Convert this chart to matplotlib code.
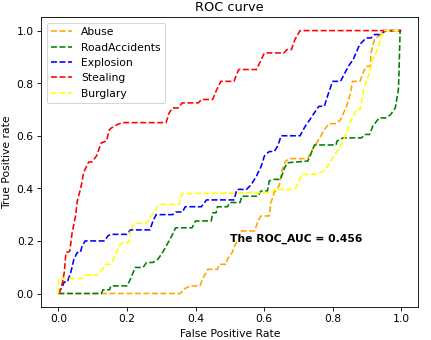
import matplotlib
matplotlib.use('Agg')
import matplotlib.pyplot as plt

# (fpr, tpr) points
abuse = [(0, 0), (0.356, 0), (0.365, 0.016), (0.385, 0.029), (0.413, 0.029), (0.42, 0.054),
         (0.436, 0.092), (0.464, 0.092), (0.47, 0.111), (0.49, 0.111), (0.493, 0.13), (0.507, 0.156),
         (0.516, 0.187), (0.526, 0.206), (0.534, 0.238), (0.573, 0.238), (0.582, 0.276), (0.591, 0.295),
         (0.615, 0.295), (0.62, 0.346), (0.63, 0.384), (0.644, 0.409), (0.653, 0.472), (0.663, 0.504),
         (0.676, 0.513), (0.728, 0.513), (0.738, 0.54), (0.747, 0.56), (0.766, 0.6), (0.776, 0.624),
         (0.79, 0.646), (0.81, 0.646), (0.823, 0.66), (0.84, 0.71), (0.852, 0.76), (0.858, 0.807),
         (0.88, 0.807), (0.889, 0.84), (0.898, 0.864), (0.91, 0.864), (0.912, 0.915), (0.922, 0.966),
         (0.93, 0.975), (0.94, 0.985), (0.945, 1.0), (1.0, 1.0)]

road_accidents = [(0, 0), (0.125, 0), (0.13, 0.014), (0.149, 0.014), (0.153, 0.029), (0.2, 0.029),
                  (0.21, 0.054), (0.224, 0.099), (0.247, 0.099), (0.257, 0.118), (0.276, 0.118),
                  (0.29, 0.13), (0.304, 0.156), (0.314, 0.18), (0.323, 0.2), (0.333, 0.225),
                  (0.342, 0.25), (0.39, 0.25), (0.4, 0.276), (0.446, 0.276), (0.45, 0.307),
                  (0.46, 0.307), (0.464, 0.33), (0.493, 0.33), (0.5, 0.346), (0.53, 0.346),
                  (0.535, 0.37), (0.582, 0.37), (0.591, 0.39), (0.61, 0.39), (0.615, 0.428),
                  (0.625, 0.434), (0.648, 0.434), (0.658, 0.472), (0.667, 0.497), (0.728, 0.504),
                  (0.738, 0.535), (0.747, 0.565), (0.81, 0.565), (0.813, 0.58), (0.83, 0.592),
                  (0.885, 0.592), (0.893, 0.605), (0.908, 0.605), (0.917, 0.636), (0.936, 0.668),
                  (0.955, 0.668), (0.969, 0.68), (0.983, 0.706), (0.992, 0.776), (0.994, 0.85),
                  (0.997, 1.0), (1.0, 1.0)]

explosion = [(0, 0), (0.012, 0.029), (0.017, 0.044), (0.026, 0.044), (0.036, 0.08), (0.045, 0.13),
             (0.055, 0.156), (0.064, 0.156), (0.069, 0.18), (0.078, 0.2), (0.135, 0.2), (0.144, 0.219),
             (0.153, 0.225), (0.2, 0.225), (0.21, 0.242), (0.267, 0.242), (0.276, 0.276), (0.285, 0.3),
             (0.333, 0.3), (0.342, 0.31), (0.362, 0.31), (0.37, 0.33), (0.417, 0.33), (0.432, 0.356),
             (0.512, 0.356), (0.521, 0.396), (0.549, 0.396), (0.563, 0.415), (0.578, 0.447),
             (0.592, 0.485), (0.601, 0.523), (0.615, 0.54), (0.63, 0.54), (0.64, 0.562), (0.65, 0.6),
             (0.705, 0.6), (0.72, 0.636), (0.733, 0.66), (0.743, 0.68), (0.76, 0.712), (0.776, 0.712),
             (0.785, 0.75), (0.8, 0.807), (0.823, 0.807), (0.846, 0.864), (0.86, 0.89), (0.879, 0.947),
             (0.898, 0.972), (0.912, 0.972), (0.922, 0.985), (0.94, 0.985), (0.955, 1.0), (1.0, 1.0)]

stealing = [(0, 0), (0.003, 0.004), (0.012, 0.042), (0.017, 0.08), (0.022, 0.156), (0.033, 0.16),
            (0.04, 0.232), (0.05, 0.295), (0.055, 0.352), (0.064, 0.396), (0.068, 0.42), (0.0735, 0.46),
            (0.088, 0.5), (0.097, 0.5), (0.111, 0.523), (0.125, 0.573), (0.14, 0.58), (0.149, 0.624),
            (0.155, 0.63), (0.172, 0.643), (0.187, 0.65), (0.314, 0.65), (0.323, 0.687), (0.333, 0.706),
            (0.35, 0.706), (0.361, 0.725), (0.408, 0.725), (0.418, 0.738), (0.45, 0.738), (0.46, 0.77),
            (0.474, 0.807), (0.512, 0.807), (0.526, 0.852), (0.578, 0.852), (0.592, 0.89),
            (0.601, 0.915), (0.658, 0.915), (0.667, 0.928), (0.68, 0.928), (0.69, 0.966),
            (0.705, 1.0), (1.0, 1.0)]

burglary = [(0, 0), (0, 0.057), (0.069, 0.057), (0.078, 0.07), (0.111, 0.07), (0.12, 0.08),
            (0.14, 0.111), (0.153, 0.111), (0.163, 0.137), (0.177, 0.18), (0.187, 0.194),
            (0.205, 0.194), (0.21, 0.238), (0.22, 0.267), (0.257, 0.267), (0.267, 0.289),
            (0.28, 0.307), (0.29, 0.333), (0.3, 0.339), (0.352, 0.339), (0.361, 0.38), (0.625, 0.384),
            (0.63, 0.396), (0.69, 0.396), (0.7, 0.42), (0.71, 0.453), (0.747, 0.453), (0.776, 0.466),
            (0.785, 0.485), (0.804, 0.523), (0.823, 0.56), (0.837, 0.6), (0.851, 0.65), (0.87, 0.70),
            (0.88, 0.70), (0.893, 0.788), (0.908, 0.84), (0.917, 0.89), (0.931, 0.928),
            (0.945, 0.985), (0.95, 1.0), (1.0, 1.0)]

labels = ['Abuse', 'RoadAccidents', 'Explosion', 'Stealing', 'Burglary']
colors = ['orange', 'green', 'blue', 'red', 'yellow']
curves = [abuse, road_accidents, explosion, stealing, burglary]
auc_text = 'The ROC_AUC = 0.456'

fig, ax = plt.subplots(figsize=(5.6, 4.42), dpi=77)
fig.subplots_adjust(left=0.0958, right=0.970, bottom=0.098, top=0.9477)

for pts, col, lab in zip(curves, colors, labels):
    fpr = [p[0] for p in pts]
    tpr = [p[1] for p in pts]
    ax.plot(fpr, tpr, linestyle='--', color=col, label=lab)

ax.text(0.5, 0.2, auc_text, fontweight='bold')
ax.set_title('ROC curve')
ax.set_xlabel('False Positive Rate')
ax.set_ylabel('True Positive rate')
ax.legend(loc='upper left')

fig.savefig('out.png', dpi=77)
